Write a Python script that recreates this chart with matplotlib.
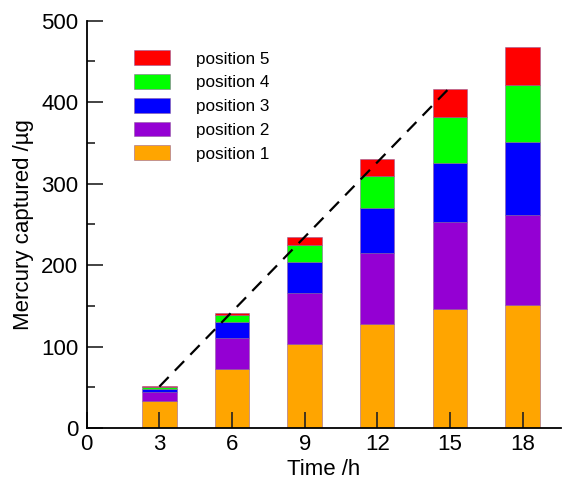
import matplotlib
matplotlib.use("Agg")
import matplotlib.pyplot as plt
from matplotlib.ticker import MultipleLocator
import numpy as np

plt.rcParams['font.family'] = ['Liberation Sans', 'DejaVu Sans']

times = [3, 6, 9, 12, 15, 18]
# cumulative tops
cum1 = [33.5, 72.7, 103.0, 128.0, 146.3, 151.3]
cum2 = [44.9, 111.1, 165.6, 215.4, 252.7, 261.7]
cum3 = [47.8, 130.4, 203.6, 270.6, 325.4, 351.6]
cum4 = [50.3, 138.6, 224.9, 309.5, 381.9, 421.5]
cum5 = [52.3, 141.4, 234.7, 330.0, 416.6, 467.4]

labels = ['position 1', 'position 2', 'position 3', 'position 4', 'position 5']
colors = ['#FFA500', '#9400D3', '#0000FF', '#00FF00', '#FF0000']

trend_x = [3, 15]
trend_y = [51, 418]

cums = [cum1, cum2, cum3, cum4, cum5]

fig = plt.figure(figsize=(5.63, 4.80), dpi=100)
ax = fig.add_axes([0.154, 0.108, 0.843, 0.849])

prev = np.zeros(len(times))
handles = []
for c, lab, col in zip(cums, labels, colors):
    c = np.array(c)
    h = ax.bar(times, c - prev, bottom=prev, width=1.42, color=col,
               edgecolor=(0.55, 0.35, 0.6, 0.6), linewidth=0.6, label=lab, zorder=1)
    handles.append(h)
    prev = c

ax.plot(trend_x, trend_y, color='black', linestyle=(0, (6, 4)), linewidth=1.6, zorder=3)

ax.set_xlim(0, 19.6)
ax.set_ylim(0, 500)
ax.set_xticks([0] + times)
ax.yaxis.set_major_locator(MultipleLocator(100))
ax.yaxis.set_minor_locator(MultipleLocator(50))

for s in ['top', 'right']:
    ax.spines[s].set_visible(False)
for s in ['left', 'bottom']:
    ax.spines[s].set_linewidth(1.3)

ax.tick_params(axis='both', which='major', direction='in', length=11.5, width=1.2,
               labelsize=16, color='#222222')
ax.tick_params(axis='y', which='minor', direction='in', length=6, width=1.2, color='#222222')
ax.tick_params(axis='y', which='major', pad=6)
ax.tick_params(axis='x', which='major', pad=4)

ax.set_xlabel('Time /h', fontsize=16, labelpad=3)
ax.set_ylabel('Mercury captured /µg', fontsize=16, labelpad=5)

leg = ax.legend(handles[::-1], labels[::-1], loc='upper left',
                bbox_to_anchor=(0.068, 0.965), frameon=False, fontsize=12.3,
                handlelength=2.1, handleheight=0.95, handletextpad=1.5,
                labelspacing=0.44)

fig.savefig('out.png', dpi=100)
